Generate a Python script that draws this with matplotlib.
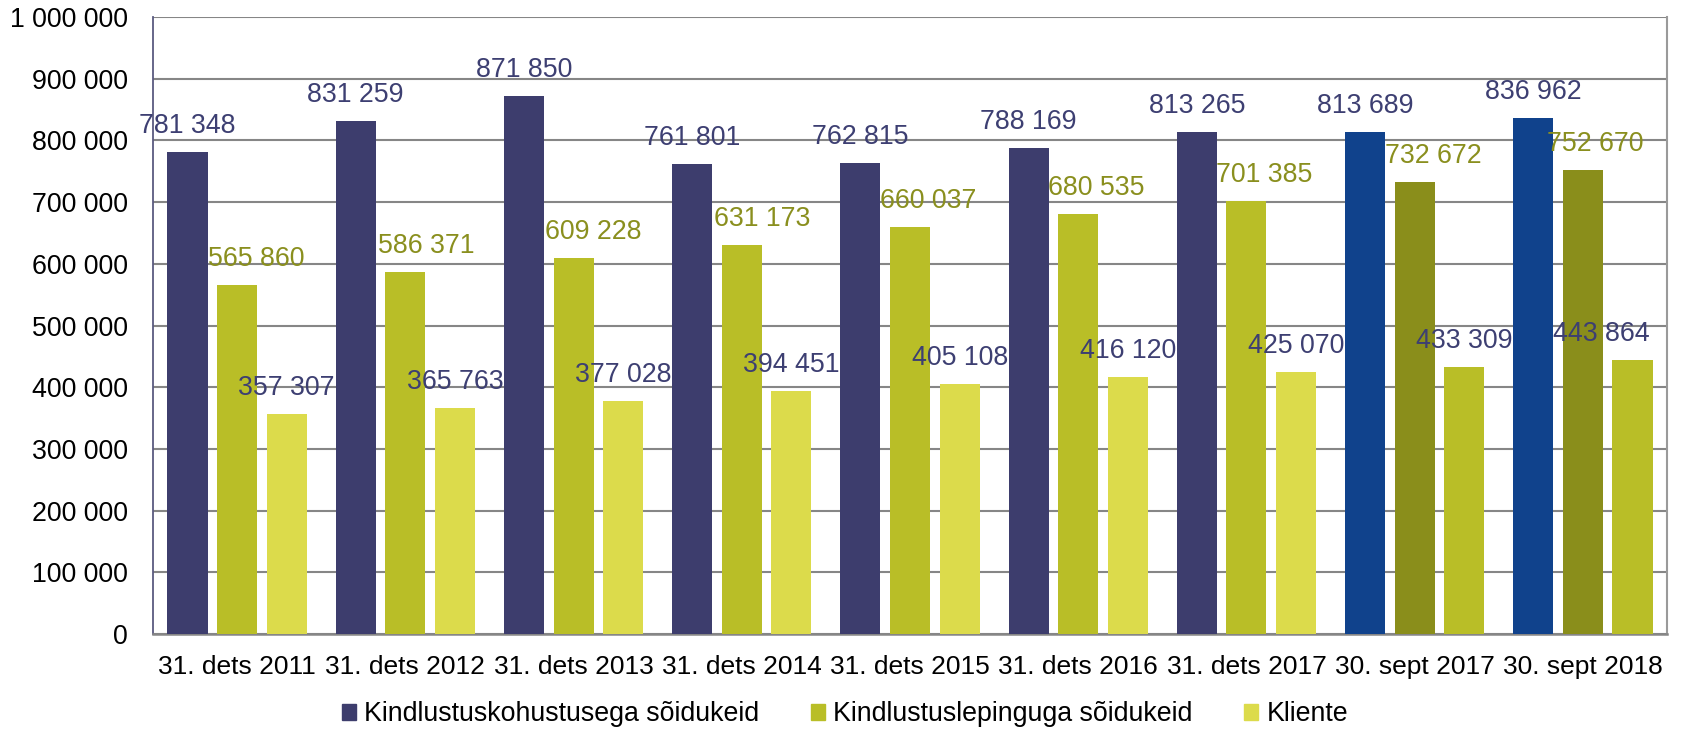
import matplotlib.pyplot as plt
import matplotlib.ticker as ticker
import matplotlib.patches as mpatches
import numpy as np

plt.rcParams['font.family'] = ['Liberation Sans', 'DejaVu Sans']

# Data
categories = ["31. dets 2011", "31. dets 2012", "31. dets 2013", "31. dets 2014",
              "31. dets 2015", "31. dets 2016", "31. dets 2017",
              "30. sept 2017", "30. sept 2018"]
kohustus = [781348, 831259, 871850, 761801, 762815, 788169, 813265, 813689, 836962]
leping = [565860, 586371, 609228, 631173, 660037, 680535, 701385, 732672, 752670]
kliente = [357307, 365763, 377028, 394451, 405108, 416120, 425070, 433309, 443864]
series_names = ["Kindlustuskohustusega sõidukeid", "Kindlustuslepinguga sõidukeid", "Kliente"]

# Colours: annual groups vs the two September groups
colors_year = ["#3D3D6D", "#B9BE27", "#DCDB4B"]
colors_sept = ["#10428C", "#8A8E1B", "#B9BE27"]
label_colors = ["#3D3F72", "#8A8F1E", "#3D3F72"]

# Horizontal nudges (pixels) for value labels, as in the original layout
shift_px = [
    [0] * 9,
    [19, 21, 20, 20, 18, 18, 18, 19, 12],
    [0, 0, 0, 0, 0, 0, 0, 0, -31],
]

fs = 19.3
fig = plt.figure(figsize=(16.83, 7.31), dpi=100)
ax = fig.add_axes([153 / 1683, 97 / 731, (1667 - 153) / 1683, (634 - 17) / 731])

x = np.arange(len(categories))
width = 0.238
pitch = 0.295
all_series = [kohustus, leping, kliente]

for s, vals in enumerate(all_series):
    cols = [colors_year[s]] * 7 + [colors_sept[s]] * 2
    pos = x + (s - 1) * pitch
    ax.bar(pos, vals, width=width, color=cols, zorder=3, linewidth=0)
    for i, v in enumerate(vals):
        ax.annotate(f"{v:,}".replace(",", " "), (pos[i], v),
                    xytext=(shift_px[s][i] * 0.72, 26 * 0.72), textcoords="offset points",
                    ha="center", va="center", fontsize=fs, color=label_colors[s], zorder=4)

ax.set_xlim(-0.5, len(categories) - 0.5)
ax.set_ylim(0, 1000000)
ax.yaxis.set_major_locator(ticker.MultipleLocator(100000))
ax.yaxis.set_major_formatter(ticker.FuncFormatter(lambda v, p: f"{v:,.0f}".replace(",", " ")))
ax.set_xticks(x)
ax.set_xticklabels(categories)
ax.tick_params(axis="both", length=0, labelsize=fs)
ax.tick_params(axis="x", labelsize=19)
ax.tick_params(axis="y", pad=18)
ax.tick_params(axis="x", pad=15)

ax.yaxis.grid(True, color="#868686", linewidth=1.5, zorder=0)
ax.set_axisbelow(True)
ax.spines["top"].set_visible(False)
ax.spines["left"].set_color("#5A5A80")
ax.spines["left"].set_linewidth(1.3)
ax.spines["bottom"].set_color("#868686")
ax.spines["bottom"].set_linewidth(1.8)
ax.spines["right"].set_color("#9A9A9A")
ax.spines["right"].set_linewidth(1.5)

handles = [mpatches.Patch(color=c, label=n) for c, n in zip(colors_year, series_names)]
fig.legend(handles=handles, loc="center", bbox_to_anchor=(0.502, 0.023), ncol=3,
           frameon=False, fontsize=fs, handlelength=0.55, handleheight=0.55,
           handletextpad=0.3, columnspacing=1.9)

fig.savefig("out.png", dpi=100)
